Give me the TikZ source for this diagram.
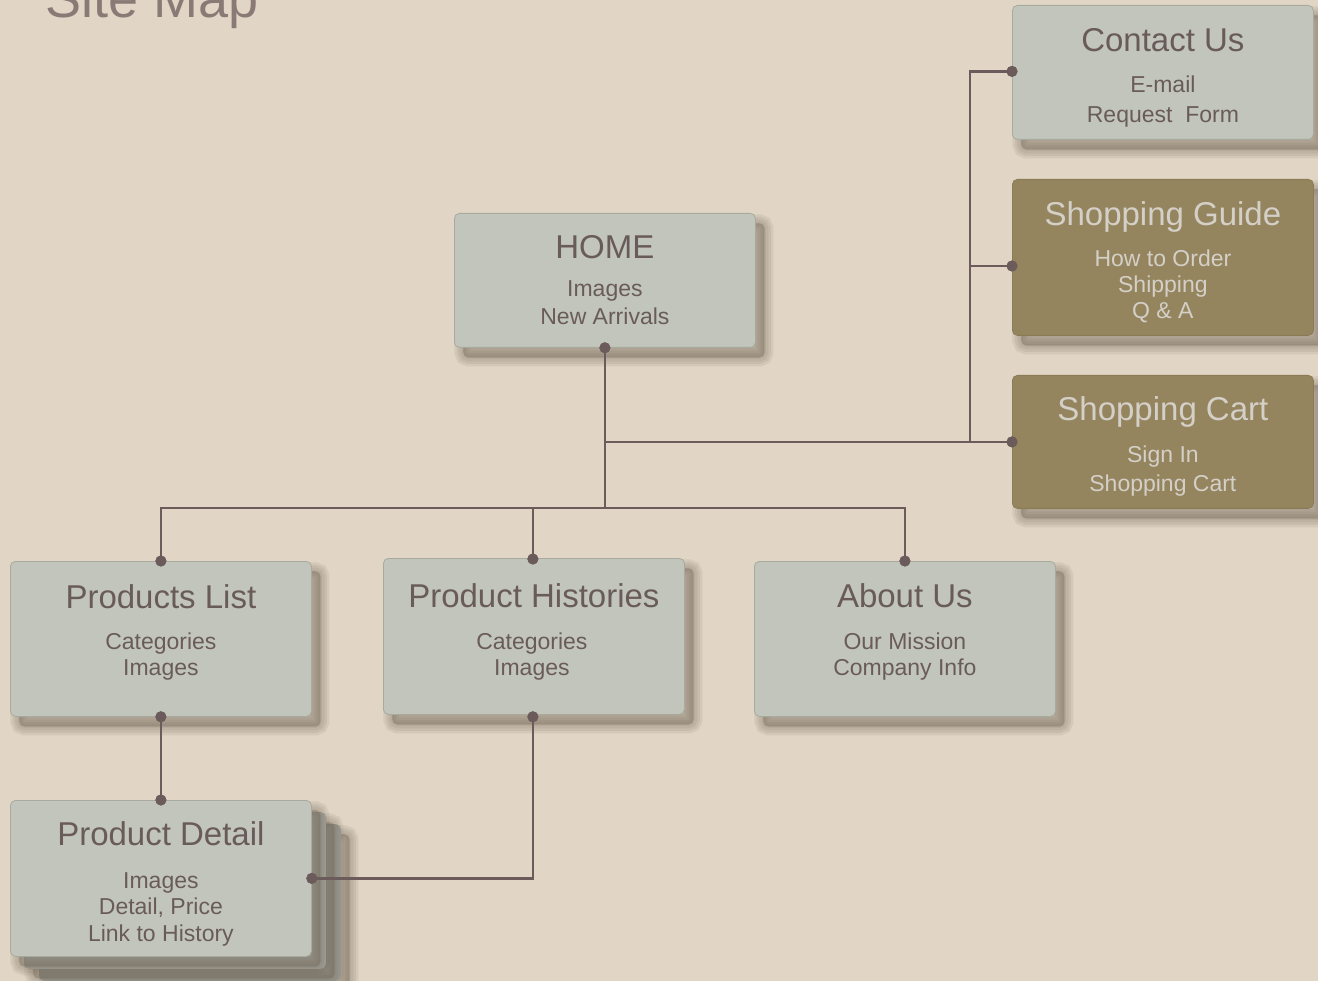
\documentclass[tikz,border=0pt]{standalone}
\usepackage{fontspec}
\setmainfont{Liberation Sans}
\usetikzlibrary{shadows,calc}
\definecolor{bgc}{HTML}{E1D6C5}
\definecolor{cardc}{HTML}{C2C5BC}
\definecolor{edgec}{HTML}{A9AA9E}
\definecolor{olivec}{HTML}{95855F}
\definecolor{oliveedge}{HTML}{8A7B57}
\definecolor{txtc}{HTML}{6A5B5B}
\definecolor{oltxt}{HTML}{D4D0C8}
\definecolor{linec}{HTML}{6B5B5B}
\definecolor{shc}{HTML}{6E6253}
\definecolor{stacktwo}{HTML}{A8AAA2}
\definecolor{stackthree}{HTML}{A0A29A}
\definecolor{titlec}{HTML}{8A7A76}
\begin{document}
\begin{tikzpicture}[x=1pt,y=-1pt,
  shlayer/.style={general shadow={shadow xshift=9pt, shadow yshift=-10pt, fill=shc, draw=shc, line width=#1, opacity=0.11}},
  soft shadow/.style={shlayer=18pt, shlayer=13pt, shlayer=8pt, shlayer=3pt},
  card/.style={rectangle, rounded corners=5pt, draw=edgec, line width=0.8pt, fill=cardc,
    minimum width=301pt, inner sep=0pt, anchor=north west, soft shadow},
  olivecard/.style={card, fill=olivec, draw=oliveedge},
  ttl/.style={anchor=base, font=\fontsize{33}{40}\selectfont, text=txtc, inner sep=0pt},
  sub/.style={anchor=base, align=center, text=txtc, inner sep=0pt},
  link/.style={draw=linec, line width=2.7pt},
  dot/.style={circle, fill=linec, minimum size=11pt, inner sep=0pt},
]
\useasboundingbox (0,0) rectangle (1318,981);
\fill[bgc] (0,0) rectangle (1318,981);

\node[anchor=base west, inner sep=0pt, text=titlec, font=\fontsize{54}{60}\selectfont] (title) at (45,18) {Site Map};

% boxes
\node[card, minimum height=134pt] (home) at (454,213) {};
\node[card, minimum height=134pt] (contact) at (1012,5) {};
\node[olivecard, minimum height=156pt] (guide) at (1012,179) {};
\node[olivecard, minimum height=133pt] (cart) at (1012,375) {};
\node[card, minimum height=155pt] (plist) at (10,561) {};
\node[card, minimum height=156pt] (phist) at (383,558) {};
\node[card, minimum height=155pt] (about) at (754,561) {};
\node[card, minimum height=156pt, fill=stackthree, draw=stackthree] (det3) at (39,824) {};
\node[card, minimum height=156pt, fill=stacktwo, draw=stacktwo] (det2) at (24,812) {};
\node[card, minimum height=156pt] (detail) at (10,800) {};

% texts (sub nodes are anchored at the baseline of their last line)
\node[ttl] (homeT) at ($(home.north)+(0,46)$) {HOME};
\node[sub, font=\fontsize{23}{28}\selectfont] (homeS) at ($(home.north)+(0,112)$) {Images\\New Arrivals};

\node[ttl] (contactT) at ($(contact.north)+(0,47)$) {Contact Us};
\node[sub, font=\fontsize{23}{30}\selectfont] (contactS) at ($(contact.north)+(0,118)$) {E-mail\\Request\ \ Form};

\node[ttl, text=oltxt] (guideT) at ($(guide.north)+(0,47)$) {Shopping Guide};
\node[sub, text=oltxt, font=\fontsize{23}{26}\selectfont] (guideS) at ($(guide.north)+(0,140)$) {How to Order\\Shipping\\Q \& A};

\node[ttl, text=oltxt] (cartT) at ($(cart.north)+(0,46)$) {Shopping Cart};
\node[sub, text=oltxt, font=\fontsize{23}{29}\selectfont] (cartS) at ($(cart.north)+(0,117)$) {Sign In\\Shopping Cart};

\node[ttl] (plistT) at ($(plist.north)+(0,47)$) {Products List};
\node[sub, font=\fontsize{23}{26}\selectfont] (plistS) at ($(plist.north)+(0,114)$) {Categories\\Images};

\node[ttl] (phistT) at ($(phist.north)+(0,49)$) {Product Histories};
\node[sub, font=\fontsize{23}{26}\selectfont] (phistS) at ($(phist.north)+(-2,117)$) {Categories\\Images};

\node[ttl] (aboutT) at ($(about.north)+(0,46)$) {About Us};
\node[sub, font=\fontsize{23}{26}\selectfont] (aboutS) at ($(about.north)+(0,114)$) {Our Mission\\Company Info};

\node[ttl] (detailT) at ($(detail.north)+(0,45)$) {Product Detail};
\node[sub, font=\fontsize{23}{26.5}\selectfont] (detailS) at ($(detail.north)+(0,141)$) {Images\\Detail, Price\\Link to History};

% connector anchor points
\coordinate (bus) at (604,508);
\coordinate (spine) at (970,442);
\node[dot] (dHome) at (home.south) {};
\node[dot] (dContact) at ($(contact.west)+(0,-1)$) {};
\node[dot] (dGuide) at ($(guide.north west)+(0,87)$) {};
\node[dot] (dCart) at (cart.west) {};
\node[dot] (dList) at (plist.north) {};
\node[dot] (dListB) at (plist.south) {};
\node[dot] (dHist) at ($(phist.north)+(-1,1)$) {};
\node[dot] (dHistB) at ($(phist.south)+(-1,2)$) {};
\node[dot] (dAbout) at (about.north) {};
\node[dot] (dDetT) at (detail.north) {};
\node[dot] (dDetR) at (detail.east) {};

% connectors
\draw[link] (dHome.center) -- (dHome.center |- bus);
\draw[link] (dList.center) |- (bus) -| (dAbout.center);
\draw[link] (dHist.center) -- (dHist.center |- bus);
\draw[link] (dHome.center |- dCart.center) -- (dCart.center);
\draw[link] (dContact.center) -| (spine);
\draw[link] (dGuide.center) -- (dGuide.center -| spine);
\draw[link] (dListB.center) -- (dDetT.center);
\draw[link] (dHistB.center) |- (dDetR.center);

% dots on top of the lines
\foreach \d in {dHome,dContact,dGuide,dCart,dList,dListB,dHist,dHistB,dAbout,dDetT,dDetR}
  \fill[linec] (\d.center) circle (5.5pt);
\end{tikzpicture}
\end{document}
